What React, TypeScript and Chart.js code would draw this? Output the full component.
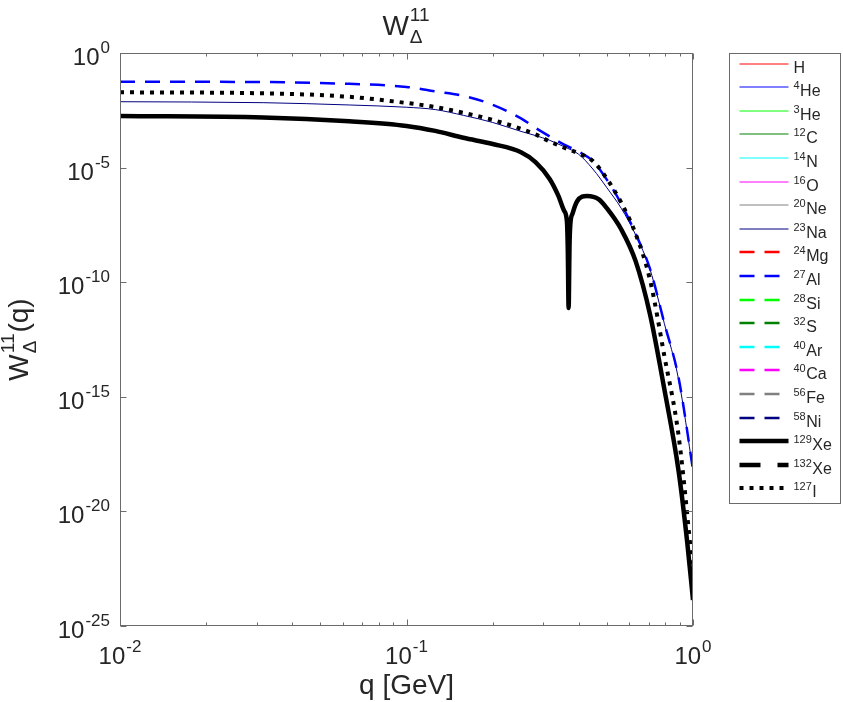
import { useEffect, useRef } from 'react';
import { Chart, registerables } from 'chart.js';

Chart.register(...registerables);

// momentum transfer grid [GeV] used for most nuclei
const qGrid = [0.01, 0.0316, 0.0631, 0.1, 0.126, 0.158, 0.2, 0.251, 0.282, 0.316, 0.355, 0.398, 0.447, 0.501, 0.562, 0.631, 0.708, 0.794, 0.891, 1.0];

const wNa23 = [7.5e-3, 6.8e-3, 5.4e-3, 4.3e-3, 3.4e-3, 1.9e-3, 9.3e-4, 3.8e-4, 2.5e-4, 1.55e-4, 8.1e-5, 3.9e-5, 8.7e-6, 1.3e-6, 1.66e-7, 1.15e-8, 3.6e-10, 1.6e-12, 5.6e-15, 6.3e-19];
const wAl27 = [5.6e-2, 5.4e-2, 4.5e-2, 3.3e-2, 2.1e-2, 1.35e-2, 5.5e-3, 1.4e-3, 5.4e-4, 2.3e-4, 1.0e-4, 5.0e-5, 1.95e-5, 2.9e-6, 2.6e-7, 1.26e-8, 3.8e-10, 1.66e-12, 6.6e-15, 6.5e-19];
const wI127 = [1.93e-2, 1.74e-2, 1.23e-2, 6.6e-3, 4.4e-3, 2.45e-3, 1.2e-3, 4.9e-4, 2.8e-4, 1.38e-4, 7.4e-5, 4.2e-5, 1.95e-5, 3.2e-6, 2.9e-7, 1.26e-8, 1.26e-10, 6.3e-14, 1.95e-17, 2.3e-23];

// Xe-129 has a zero near q ~ 0.37 GeV, so it gets a denser grid there
const qXe = [0.01, 0.0316, 0.0631, 0.1, 0.126, 0.158, 0.2, 0.251, 0.282, 0.316, 0.339, 0.355, 0.363, 0.3656, 0.368, 0.3707, 0.373, 0.38, 0.394, 0.427, 0.468, 0.501, 0.562, 0.631, 0.708, 0.794, 0.891, 0.955, 1.0];
const wXe129 = [1.78e-3, 1.55e-3, 1.05e-3, 6.6e-4, 4.0e-4, 2.0e-4, 1.07e-4, 4.7e-5, 1.74e-5, 3.2e-6, 5.8e-7, 1.3e-7, 4.5e-8, 2.5e-9, 7.4e-12, 4.0e-9, 3.2e-8, 1.0e-7, 3.4e-7, 5.8e-7, 4.2e-7, 1.66e-7, 2.0e-8, 8.1e-10, 3.9e-12, 2.2e-15, 5.6e-19, 4.3e-22, 1.35e-24];

// legend entries (mass number as superscript + element)
const nucleusMass = ['', '4', '3', '12', '14', '16', '20', '23', '24', '27', '28', '32', '40', '40', '56', '58', '129', '132', '127'];
const nucleusSymbol = ['H', 'He', 'He', 'C', 'N', 'O', 'Ne', 'Na', 'Mg', 'Al', 'Si', 'S', 'Ar', 'Ca', 'Fe', 'Ni', 'Xe', 'Xe', 'I'];

const xTickExponents = [-2, -1, 0];
const yTickExponents = [0, -5, -10, -15, -20, -25];

// nuclei without an entry here have W = 0 and show nothing on a log axis
const seriesByIndex: Record<number, { q: number[]; w: number[] }> = {
  7: { q: qGrid, w: wNa23 },
  9: { q: qGrid, w: wAl27 },
  16: { q: qXe, w: wXe129 },
  18: { q: qGrid, w: wI127 }
};

const FONT = '"Liberation Sans", Arial, Helvetica, sans-serif';
const INK = '#262626';
const FRAME = '#6b6b6b';

const styleFor = (i: number) => {
  const palette = ['#ff0000', '#0000ff', '#00ff00', '#008000', '#00ffff', '#ff00ff', '#808080', '#000080'];
  if (i < 8) return { color: palette[i], width: 1, dash: [] as number[] };
  if (i < 16) return { color: palette[i - 8], width: 2.5, dash: [15, 10] };
  if (i === 16) return { color: '#000000', width: 4.5, dash: [] as number[] };
  if (i === 17) return { color: '#000000', width: 4.5, dash: [21, 17] };
  return { color: '#000000', width: 4, dash: [4, 6] };
};

// W^{11}_{Δ} with optional "(q)", baseline at y, starting at x; returns width
const drawW = (ctx: CanvasRenderingContext2D, x: number, y: number, withQ: boolean, draw = true) => {
  ctx.font = `28px ${FONT}`;
  const wW = ctx.measureText('W').width;
  ctx.font = `19px ${FONT}`;
  const wSup = ctx.measureText('11').width;
  const wSub = ctx.measureText('\u0394').width;
  const wScript = Math.max(wSup, wSub) + 1;
  ctx.font = `28px ${FONT}`;
  const wQ = withQ ? ctx.measureText('(q)').width : 0;
  if (draw) {
    ctx.textAlign = 'left';
    ctx.font = `28px ${FONT}`;
    ctx.fillText('W', x, y);
    ctx.font = `19px ${FONT}`;
    ctx.fillText('11', x + wW + 1, y - 14);
    ctx.fillText('\u0394', x + wW + 1, y + 8);
    if (withQ) {
      ctx.font = `28px ${FONT}`;
      ctx.fillText('(q)', x + wW + 1 + wScript, y);
    }
  }
  return wW + 1 + wScript + wQ;
};

const matlabAxes = {
  id: 'matlabAxes',
  afterDraw(chart: Chart) {
    const { ctx, chartArea: a, scales } = chart;
    const xs = scales.x;
    const ys = scales.y;
    ctx.save();

    const L = Math.round(a.left) + 0.5;
    const R = Math.round(a.right) - 0.5;
    const T = Math.round(a.top) + 0.5;
    const B = Math.round(a.bottom) - 0.5;
    ctx.strokeStyle = FRAME;
    ctx.lineWidth = 1;
    ctx.setLineDash([]);
    ctx.strokeRect(L, T, R - L, B - T);

    ctx.beginPath();
    for (let d = -2; d <= 0; d++) {
      for (let m = 1; m <= 9; m++) {
        const v = m * Math.pow(10, d);
        if (v > 1.0001) break;
        const px = Math.round(xs.getPixelForValue(v)) + 0.5;
        const len = m === 1 ? 6 : 3;
        ctx.moveTo(px, B);
        ctx.lineTo(px, B - len);
        ctx.moveTo(px, T);
        ctx.lineTo(px, T + len);
      }
    }
    for (const e of yTickExponents) {
      const py = Math.round(ys.getPixelForValue(Math.pow(10, e))) + 0.5;
      ctx.moveTo(L, py);
      ctx.lineTo(L + 6, py);
      ctx.moveTo(R, py);
      ctx.lineTo(R - 6, py);
    }
    ctx.stroke();

    // tick labels 10^n
    ctx.fillStyle = INK;
    ctx.textBaseline = 'alphabetic';
    ctx.textAlign = 'left';
    const big = `24px ${FONT}`;
    const small = `17px ${FONT}`;
    for (const e of xTickExponents) {
      const px = xs.getPixelForValue(Math.pow(10, e));
      ctx.font = big;
      const w1 = ctx.measureText('10').width;
      ctx.font = small;
      const w2 = ctx.measureText(String(e)).width;
      const x0 = px - (w1 + w2 + 1) / 2;
      ctx.font = big;
      ctx.fillText('10', x0, a.bottom + 38);
      ctx.font = small;
      ctx.fillText(String(e), x0 + w1 + 1, a.bottom + 26);
    }
    for (const e of yTickExponents) {
      const py = ys.getPixelForValue(Math.pow(10, e));
      ctx.font = small;
      const w2 = ctx.measureText(String(e)).width;
      ctx.fillText(String(e), a.left - 10 - w2, py);
      ctx.font = big;
      const w1 = ctx.measureText('10').width;
      ctx.fillText('10', a.left - 10 - w2 - 1 - w1, py + 12);
    }

    // axis titles
    const cx = (a.left + a.right) / 2;
    const cy = (a.top + a.bottom) / 2;
    ctx.font = `28px ${FONT}`;
    ctx.textAlign = 'center';
    ctx.fillText('q [GeV]', cx, a.bottom + 68);

    const tw = drawW(ctx, 0, 0, false, false);
    drawW(ctx, cx - tw / 2, 35, false);

    ctx.save();
    ctx.translate(28, cy);
    ctx.rotate(-Math.PI / 2);
    const yw = drawW(ctx, 0, 0, true, false);
    drawW(ctx, -yw / 2, 0, true);
    ctx.restore();

    // legend box
    const lx = Math.round(a.right) + 36.5;
    const ly = T;
    ctx.fillStyle = '#ffffff';
    ctx.fillRect(lx, ly, 111, 450);
    ctx.strokeStyle = FRAME;
    ctx.lineWidth = 1;
    ctx.strokeRect(lx, ly, 111, 450);
    nucleusSymbol.forEach((sym, i) => {
      const s = styleFor(i);
      // thin samples sit between pixel rows so they come out soft like the original
      const y = Math.round(ly + 10 + i * 23.6);
      ctx.strokeStyle = s.color;
      ctx.lineWidth = s.width;
      ctx.setLineDash(s.dash);
      ctx.lineCap = 'butt';
      ctx.beginPath();
      ctx.moveTo(lx + 10, y);
      ctx.lineTo(lx + 59, y);
      ctx.stroke();
      ctx.setLineDash([]);
      ctx.fillStyle = INK;
      ctx.textAlign = 'left';
      let tx = lx + 64;
      if (nucleusMass[i]) {
        ctx.font = `11px ${FONT}`;
        ctx.fillText(nucleusMass[i], tx, y + 2);
        tx += ctx.measureText(nucleusMass[i]).width + 0.5;
      }
      ctx.font = `16px ${FONT}`;
      ctx.fillText(sym, tx, y + 9);
    });

    ctx.restore();
  }
};

export default function App() {
  const canvas = useRef<HTMLCanvasElement | null>(null);
  const chartRef = useRef<Chart | null>(null);

  useEffect(() => {
    const node = canvas.current;
    if (!node) {
      return;
    }
    if (chartRef.current) {
      chartRef.current.destroy();
    }

    const datasets = nucleusSymbol.map((sym, i) => {
      const s = styleFor(i);
      const series = seriesByIndex[i];
      const data = series ? series.q.map((q, k) => ({ x: q, y: series.w[k] })) : [];
      return {
        label: `${nucleusMass[i]}${sym}`,
        data,
        showLine: true,
        borderColor: s.color,
        backgroundColor: s.color,
        borderWidth: s.width,
        borderDash: s.dash,
        borderCapStyle: 'butt' as const,
        borderJoinStyle: 'round' as const,
        pointRadius: 0,
        pointHoverRadius: 0,
        fill: false,
        cubicInterpolationMode: 'monotone' as const,
        order: nucleusSymbol.length - i
      };
    });

    chartRef.current = new Chart(node, {
      type: 'scatter',
      data: { datasets },
      options: {
        responsive: false,
        maintainAspectRatio: false,
        animation: false,
        events: [],
        layout: { padding: { left: 120, top: 53, right: 150, bottom: 76 } },
        scales: {
          x: { type: 'logarithmic', min: 0.01, max: 1, display: false },
          y: { type: 'logarithmic', min: 1e-25, max: 1, display: false }
        },
        plugins: {
          legend: { display: false },
          tooltip: { enabled: false }
        }
      },
      plugins: [matlabAxes]
    });

    return () => {
      chartRef.current?.destroy();
      chartRef.current = null;
    };
  }, []);

  return (
    <div style={{ position: 'fixed', left: 0, top: 0, width: 843, height: 702, background: '#ffffff' }}>
      <canvas ref={canvas} width={843} height={702} style={{ display: 'block' }} role="img" aria-label="W Delta 11 response versus q" />
    </div>
  );
}
